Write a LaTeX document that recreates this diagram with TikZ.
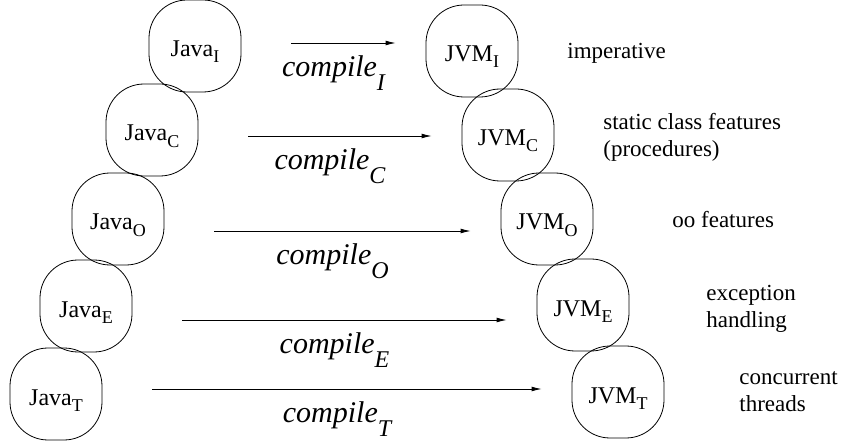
\documentclass[tikz,border=0pt]{standalone}
\usepackage{fontspec}
\setmainfont{Liberation Serif}
\usetikzlibrary{arrows.meta}
\newcommand{\lowsub}[1]{\raisebox{-0.45em}{\fontsize{12}{14}\selectfont #1}}
\newcommand{\boxsub}[1]{\raisebox{-0.25em}{\fontsize{9}{10}\selectfont #1}}
\begin{document}
\begin{tikzpicture}[x=0.5pt, y=-0.5pt,
    main/.style = {draw, rounded corners=19pt, minimum width=46pt, minimum height=46pt, inner sep=0pt, text height=11pt, text depth=0pt, font=\fontsize{12}{14}\selectfont},
    note/.style = {anchor=west, align=left, inner sep=0pt, font=\fontsize{11.5}{13.5}\selectfont},
    arr/.style = {-{Latex[length=5pt,width=2.4pt]}, shorten <=25pt, shorten >=15pt},
    lbl/.style = {midway, yshift=-15pt, font=\fontsize{15}{18}\selectfont\itshape}]
  \useasboundingbox (0,0) rectangle (842,444);
  \node[main] (j1) at (195,46)  {Java\boxsub{I}};
  \node[main] (j2) at (152,130) {Java\boxsub{C}};
  \node[main] (j3) at (118,219) {Java\boxsub{O}};
  \node[main] (j4) at (86,306)  {Java\boxsub{E}};
  \node[main] (j5) at (56,394)  {Java\boxsub{T}};
  \node[main] (v1) at (472,51)  {JVM\boxsub{I}};
  \node[main] (v2) at (508,135) {JVM\boxsub{C}};
  \node[main] (v3) at (547,219) {JVM\boxsub{O}};
  \node[main] (v4) at (583,305) {JVM\boxsub{E}};
  \node[main] (v5) at (618,392) {JVM\boxsub{T}};
  \draw[arr] (j1.east |- 0,43)  -- (v1.west |- 0,43)  node[lbl] {compile\lowsub{I}};
  \draw[arr] (j2.east |- 0,136) -- (v2.west |- 0,136) node[lbl] {compile\lowsub{C}};
  \draw[arr] (j3.east |- 0,231) -- (v3.west |- 0,231) node[lbl] {compile\lowsub{O}};
  \draw[arr] (j4.east |- 0,320) -- (v4.west |- 0,320) node[lbl] {compile\lowsub{E}};
  \draw[arr] (j5.east |- 0,389) -- (v5.west |- 0,389) node[lbl] {compile\lowsub{T}};
  \node[note] (n1) at (567,53)    {imperative};
  \node[note] (n2) at (603,137.5) {static class features\\(procedures)};
  \node[note] (n3) at (672,220)   {oo features};
  \node[note] (n4) at (706,308.5) {exception\\handling};
  \node[note] (n5) at (739,392)   {concurrent\\threads};
\end{tikzpicture}
\end{document}
